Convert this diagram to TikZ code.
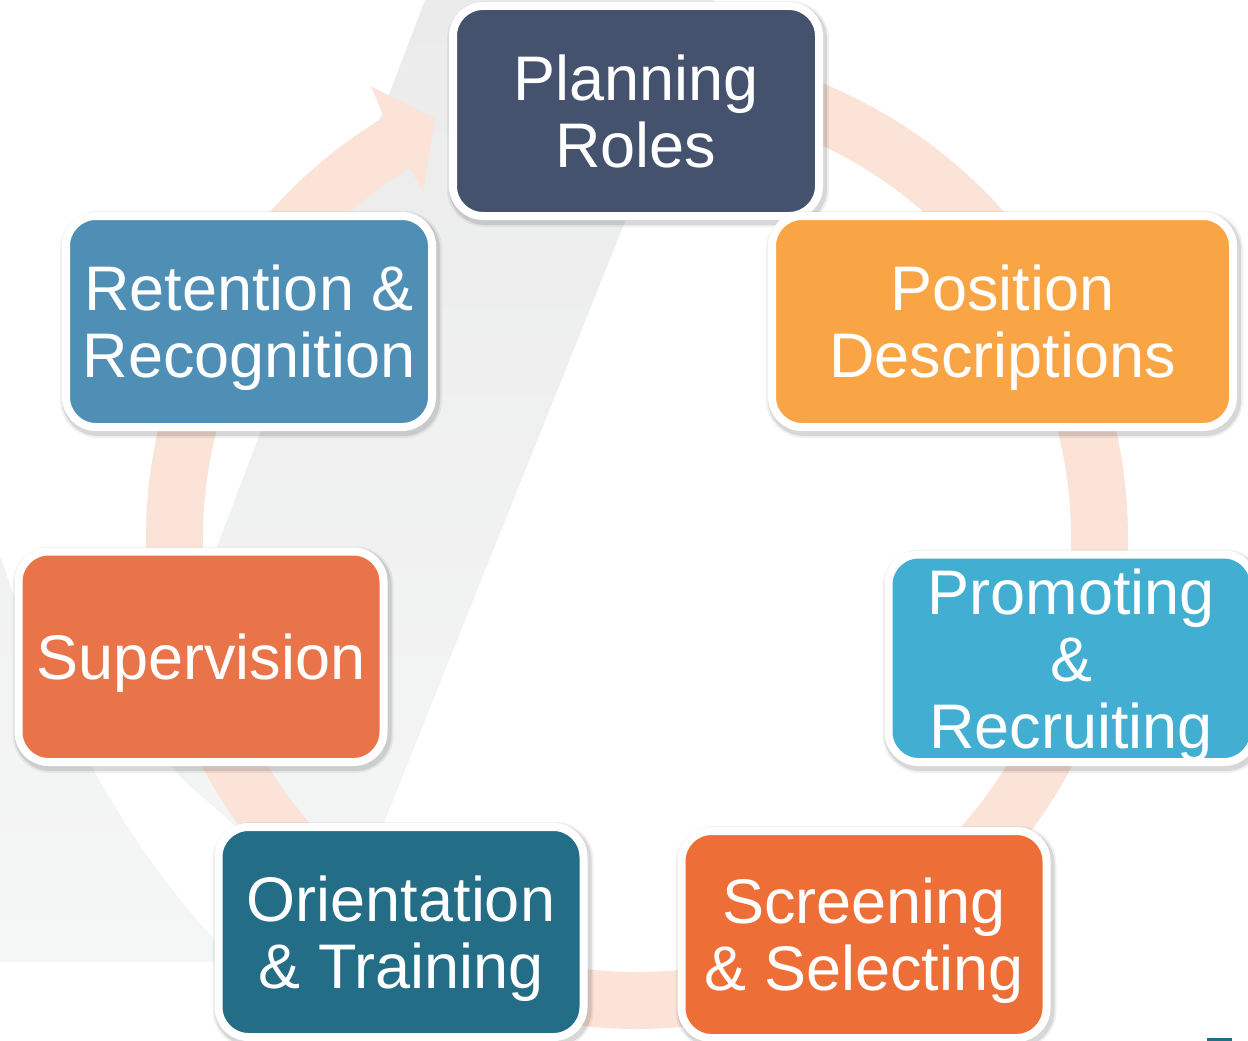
\documentclass[tikz,border=0pt]{standalone}
\usepackage{fontspec}
\setmainfont{Liberation Sans}
\usetikzlibrary{calc}

\definecolor{planC}{HTML}{44526D}
\definecolor{posC}{HTML}{F9A546}
\definecolor{retC}{HTML}{4F8FB5}
\definecolor{supC}{HTML}{EA744A}
\definecolor{proC}{HTML}{42AED1}
\definecolor{oriC}{HTML}{236D87}
\definecolor{scrC}{HTML}{EE6E37}
\definecolor{ringC}{HTML}{FCE3D8}
\definecolor{greyTop}{HTML}{EBEBEB}
\definecolor{greyBot}{HTML}{F5F6F6}

\tikzset{
  card/.style={
    rounded corners=30, draw=white, line width=8, text=white,
    align=center, inner sep=0pt, text depth=0pt,
    font=\fontsize{63}{67}\selectfont,
    preaction={draw=black, draw opacity=0.06, line width=16,
      transform canvas={xshift=2pt, yshift=-3pt}},
    preaction={draw=black, draw opacity=0.10, line width=12,
      transform canvas={xshift=2pt, yshift=-3pt}}
  }
}

\begin{document}
\begin{tikzpicture}[x=1pt, y=-1pt]
\useasboundingbox (0,0) rectangle (1248,1041);
\fill[white] (0,0) rectangle (1248,1041);

% faint grey backdrop shape
\shade[top color=greyTop, bottom color=greyBot]
  (425,0) -- (714,0) -- (328,962) -- (0,962) -- (0,557) -- (213,557) -- cycle;
% white swoosh cutting through the backdrop
\fill[white] (-5,540) .. controls (40,680) and (120,850) .. (240,965)
  -- (300,965) .. controls (280,900) and (250,840) .. (238,830)
  .. controls (215,805) and (190,790) .. (172,767)
  .. controls (130,700) and (90,620) .. (60,540) -- cycle;

% circular arrow around the cycle
\coordinate (C) at (637,538);
\fill[ringC] (C) ++(270:491) arc[start angle=270, end angle=599, radius=491]
  -- ($(C)+(599.5:524)$) -- ($(C)+(604.3:466)$) -- ($(C)+(598.2:406)$)
  -- ($(C)+(598.5:434)$)
  arc[start angle=598.5, end angle=270, radius=434] -- cycle;

% stages
\node[card, fill=planC, minimum width=366, minimum height=210]
  (plan) at (636,111) {Planning\\Roles};
\node[card, fill=posC, minimum width=461, minimum height=211]
  (pos) at (1002.5,321.5) {Position\\Descriptions};
\node[card, fill=retC, minimum width=366, minimum height=211]
  (ret) at (249,321.5) {Retention \&\\Recognition};
\node[card, fill=supC, minimum width=365, minimum height=210.5]
  (sup) at (201,656.75) {Supervision};
\node[card, fill=proC, minimum width=365.5, minimum height=207.5]
  (pro) at (1071.25,658.25) {Promoting\\\&\\Recruiting};
\node[card, fill=oriC, minimum width=365, minimum height=210]
  (ori) at (401,932) {Orientation\\\& Training};
\node[card, fill=scrC, minimum width=365, minimum height=207]
  (scr) at (864,934.5) {Screening\\\& Selecting};

% small mark at the lower right edge
\fill[oriC] (1207,1038) rectangle (1232,1041);
\end{tikzpicture}
\end{document}
